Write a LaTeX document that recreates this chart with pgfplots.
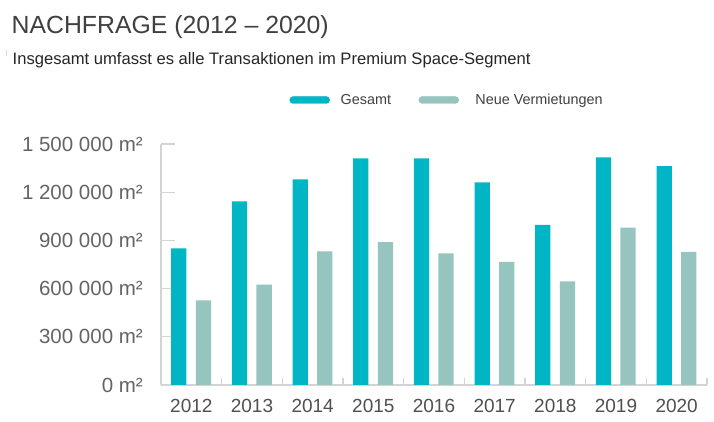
\documentclass[border=0pt]{standalone}
\usepackage{pgfplots}
\pgfplotsset{compat=1.18}
\usepackage{fontspec}
\setmainfont{Liberation Sans}
\definecolor{gesamt}{RGB}{0,182,196}
\definecolor{neue}{RGB}{150,196,191}
\definecolor{axisgray}{RGB}{212,212,212}
\definecolor{labgray}{RGB}{100,100,100}
\definecolor{yeargray}{RGB}{80,80,80}
\definecolor{titlegray}{RGB}{64,64,64}
\begin{document}
\begin{tikzpicture}
\path[use as bounding box, fill=white] (0,0) rectangle (714bp,422bp);
\node[anchor=base west, inner sep=0pt, font=\fontsize{24.8bp}{28bp}\selectfont, text=titlegray] at (11.5bp,388bp) {NACHFRAGE (2012 – 2020)};
\node[anchor=base west, inner sep=0pt, font=\fontsize{16.6bp}{19bp}\selectfont, text=black!85] at (12.5bp,357.5bp) {Insgesamt umfasst es alle Transaktionen im Premium Space-Segment};
\draw[line width=1bp, color={rgb,255:red,245;green,215;blue,180}] (6bp,366bp) -- (6bp,372bp);
\begin{axis}[
  at={(161bp,37bp)}, anchor=south west,
  scale only axis, width=546bp, height=241bp,
  xmin=-0.5, xmax=8.5, ymin=0, ymax=1500000,
  scaled y ticks=false,
  clip=false,
  axis x line*=bottom, axis y line*=left,
  axis line style={draw=axisgray, line width=1.3bp, -},
  tick align=inside,
  major tick length=14bp,
  minor tick length=7bp,
  ytick={0,300000,600000,900000,1200000,1500000},
  yticklabels={0 m²,300 000 m²,600 000 m²,900 000 m²,1 200 000 m²,1 500 000 m²},
  yticklabel style={anchor=east, inner sep=0pt, xshift=-18bp, font=\fontsize{20.5bp}{23bp}\selectfont, text=labgray},
  ytick style={draw=axisgray, line width=1.2bp},
  xtick={0,1,2,3,4,5,6,7,8},
  xticklabels={2012,2013,2014,2015,2016,2017,2018,2019,2020},
  xticklabel style={anchor=base, inner sep=0pt, yshift=-27.7bp, font=\fontsize{19bp}{22bp}\selectfont, text=yeargray},
  major x tick style={draw=none},
  minor xtick={0.5,1.5,2.5,3.5,4.5,5.5,6.5,7.5,8.5},
  minor x tick style={draw=axisgray, line width=1.2bp},
  legend style={at={(0.235,1.1826)}, anchor=west, draw=none, fill=none, inner sep=0pt,
     font=\fontsize{14.4bp}{17bp}\selectfont, text=titlegray,
     nodes={inner sep=0pt},
     column sep=10.7bp,
     /tikz/every even column/.append style={column sep=27.6bp},
     /tikz/column 3/.style={column sep=16.4bp}},
  legend columns=2,
]
\addplot[ybar, bar width=15.3bp, bar shift=-12.5bp, fill=gesamt, draw=none, forget plot] coordinates {
(0,850000) (1,1143000) (2,1280000) (3,1411000) (4,1411000) (5,1261000) (6,996000) (7,1417000) (8,1363000)};
\addplot[ybar, bar width=15.3bp, bar shift=12.1bp, fill=neue, draw=none, forget plot] coordinates {
(0,527000) (1,624000) (2,832000) (3,890000) (4,820000) (5,766000) (6,645000) (7,979000) (8,828000)};
\addlegendimage{legend image code/.code={\fill[gesamt, rounded corners=3.5bp] (0bp,-3.5bp) rectangle (40bp,3.5bp);}}
\addlegendentry{Gesamt}
\addlegendimage{legend image code/.code={\fill[neue, rounded corners=3.5bp] (0bp,-3.5bp) rectangle (40bp,3.5bp);}}
\addlegendentry{Neue Vermietungen}
\end{axis}
\end{tikzpicture}
\end{document}
